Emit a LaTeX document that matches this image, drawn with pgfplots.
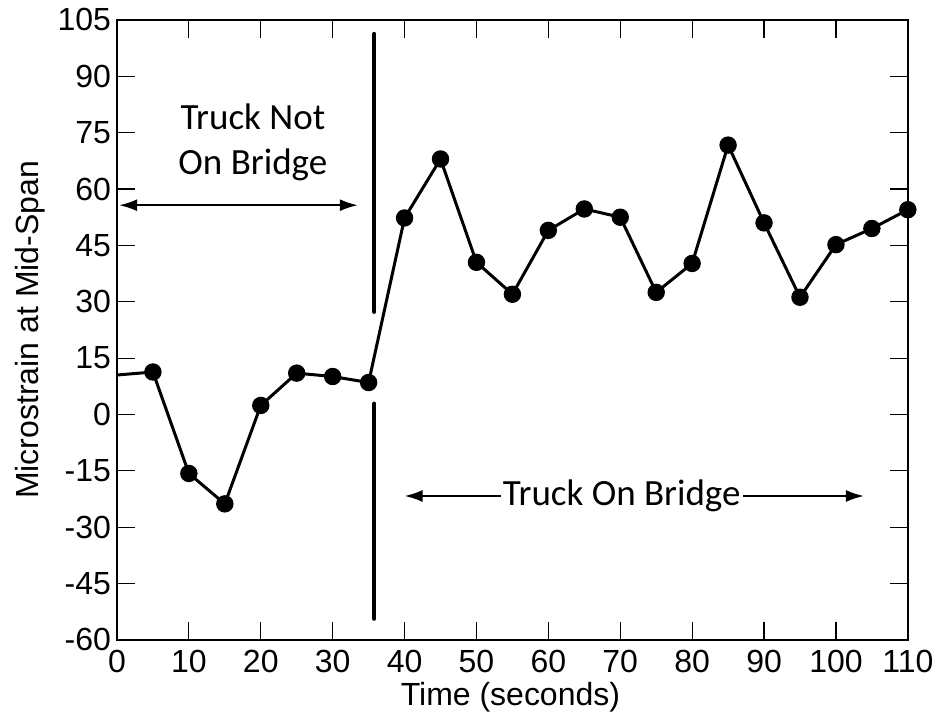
\documentclass[border=0pt]{standalone}
\usepackage{pgfplots}
\pgfplotsset{compat=1.18}
\usepackage{fontspec}
\setmainfont{Liberation Sans}
\newfontfamily\calibri{Carlito}
\usetikzlibrary{arrows.meta}
\begin{document}
\begin{tikzpicture}
\begin{axis}[
  at={(0,0)}, anchor=south west,
  scale only axis, width=395.5pt, height=310pt,
  xmin=0, xmax=110, ymin=-60, ymax=105,
  xtick={0,10,...,110}, ytick={-60,-45,...,105},
  tick align=inside, major tick length=9pt,
  tick style={black, line width=0.6pt},
  axis line style={line width=1pt},
  ticklabel style={font=\fontsize{16}{18}\selectfont},
  xticklabel style={yshift=-1.5pt},
  yticklabel style={xshift=0.5pt},
  /pgf/number format/assume math mode=true,
  xlabel={Time (seconds)}, ylabel={Microstrain at Mid-Span},
  label style={font=\fontsize{16}{18}\selectfont},
  xlabel style={at={(axis description cs:0.4975,-0.1065)}, anchor=base},
  ylabel style={at={(axis description cs:-0.110,0.5)}, anchor=center},
  clip=false,
]
\addplot[black, line width=1.5pt, mark=*, mark size=4.1pt, mark options={fill=black, line width=0.5pt}, mark indices={2,...,23}] coordinates {
(0,10.5)(5,11.3)(10,-15.7)(15,-23.8)(20,2.4)(25,11.0)(30,10.1)(35,8.5)(40,52.3)(45,68.0)(50,40.5)(55,32.0)(60,49.0)(65,54.7)(70,52.5)(75,32.5)(80,40.2)(85,71.7)(90,51.0)(95,31.2)(100,45.2)(105,49.5)(110,54.5)
};
\draw[line width=2pt, line cap=round] (axis cs:35.8,101.3) -- (axis cs:35.8,27.3);
\draw[line width=2pt, line cap=round] (axis cs:35.8,2.9) -- (axis cs:35.8,-54.4);
\draw[{Latex[length=9pt,width=6pt]}-{Latex[length=9pt,width=6pt]}, line width=1pt] (axis cs:0.3,55.7) -- (axis cs:33.5,55.7);
\node[align=center, font=\calibri\fontsize{18.5}{22.5}\selectfont] at (axis cs:18.9,72.5) {Truck Not\\On Bridge};
\draw[{Latex[length=9pt,width=6pt]}-{Latex[length=9pt,width=6pt]}, line width=1pt] (axis cs:40,-21.7) -- (axis cs:103.9,-21.7);
\node[fill=white, inner sep=1pt, font=\calibri\fontsize{18.5}{22.5}\selectfont] at (axis cs:70.2,-21.7) {Truck On Bridge};
\end{axis}
\path[use as bounding box] (-58.5pt,-40.5pt) rectangle (411.5pt,320pt);
\end{tikzpicture}
\end{document}
